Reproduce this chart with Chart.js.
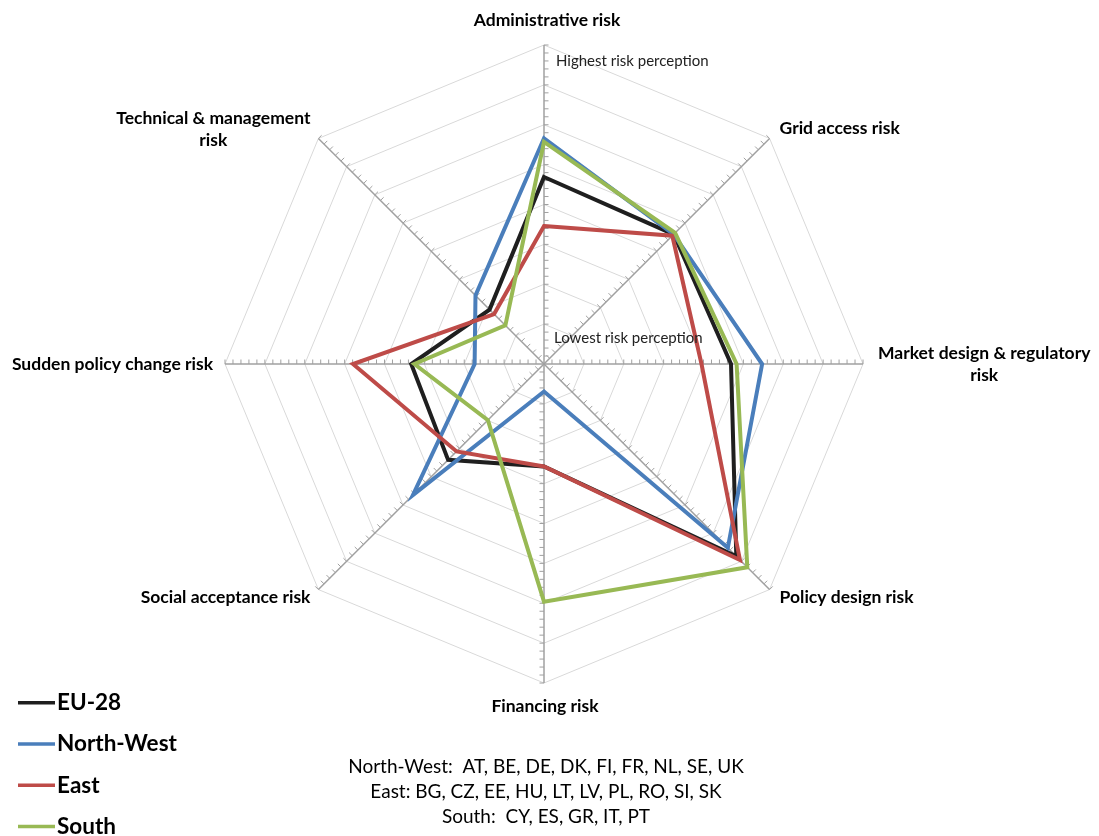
<!DOCTYPE html>
<html>
<head>
<meta charset="utf-8">
<title>Perceived risk by region</title>
<script src="https://cdn.jsdelivr.net/npm/chart.js@4.4.1/dist/chart.umd.min.js"></script>
<style>
  html, body { margin: 0; padding: 0; background: #ffffff; }
  canvas { display: block; }
</style>
</head>
<body>
<canvas id="riskRadar" width="1099" height="836"></canvas>
<script>
// Risk categories, clockwise from the top spoke
const categories = [
  ['Administrative risk'],
  ['Grid access risk'],
  ['Market design & regulatory', 'risk'],
  ['Policy design risk'],
  ['Financing risk'],
  ['Social acceptance risk'],
  ['Sudden policy change risk'],
  ['Technical & management', 'risk']
];

// Perceived risk per region (0 = lowest, 8 = highest)
const eu28      = [4.69, 4.60, 4.69, 6.82, 2.57, 3.40, 3.33, 1.93];
const northWest = [5.66, 4.60, 5.47, 6.52, 0.69, 4.65, 1.74, 2.43];
const east      = [3.46, 4.55, 3.95, 6.95, 2.57, 3.10, 4.79, 1.77];
const south     = [5.57, 4.65, 4.83, 7.21, 5.96, 1.99, 3.25, 1.37];

const seriesNames = ['EU-28', 'North-West', 'East', 'South'];
const seriesColors = ['#1f1f1f', '#4a7ebb', '#be4b48', '#98b954'];

// Value axis
const scaleMin = 0;
const scaleMax = 8;
const ringStep = 1;
const minorTicksPerRing = 5;

const axisHints = ['Highest risk perception', 'Lowest risk perception'];
const regionNotes = [
  'North-West:  AT, BE, DE, DK, FI, FR, NL, SE, UK',
  'East: BG, CZ, EE, HU, LT, LV, PL, RO, SI, SK',
  'South:  CY, ES, GR, IT, PT'
];

const FONT = 'Lato, "Open Sans", "DejaVu Sans", sans-serif';

// Where each category label sits relative to the end of its spoke
const labelPlacement = [
  { dx: 3,   dy: -25, align: 'center' },
  { dx: 10,  dy: -10, align: 'left' },
  { dx: 15,  dy: 0,   align: 'left' },
  { dx: 10,  dy: 8,   align: 'left' },
  { dx: 1,   dy: 23,  align: 'center' },
  { dx: -8,  dy: 8,   align: 'right' },
  { dx: -12, dy: 0,   align: 'right' },
  { dx: -8,  dy: -9,  align: 'right' }
];

// Small tick marks along every spoke
const spokeTicks = {
  id: 'spokeTicks',
  beforeDatasetsDraw(chart) {
    const s = chart.scales.r;
    const ctx = chart.ctx;
    const n = chart.data.labels.length;
    const count = Math.round((scaleMax - scaleMin) / ringStep) * minorTicksPerRing;
    ctx.save();
    ctx.strokeStyle = '#a0a0a0';
    ctx.lineWidth = 1;
    for (let i = 0; i < n; i++) {
      const end = s.getPointPosition(i, s.drawingArea);
      let dx = end.x - s.xCenter, dy = end.y - s.yCenter;
      const len = Math.hypot(dx, dy);
      dx /= len; dy /= len;
      let px = -dy, py = dx;
      if (py > 0.001) { px = -px; py = -py; }
      ctx.beginPath();
      for (let k = 1; k <= count; k++) {
        const v = scaleMin + k * ringStep / minorTicksPerRing;
        const p = s.getPointPosition(i, s.getDistanceFromCenterForValue(v));
        ctx.moveTo(p.x, p.y);
        ctx.lineTo(p.x + px * 4.5, p.y + py * 4.5);
      }
      ctx.stroke();
    }
    ctx.restore();
  }
};

// Category labels, axis hints, legend and region notes
const annotations = {
  id: 'annotations',
  afterDraw(chart) {
    const s = chart.scales.r;
    const ctx = chart.ctx;
    ctx.save();
    ctx.fillStyle = '#000000';
    ctx.textBaseline = 'middle';

    // category labels
    ctx.font = 'bold 17.5px ' + FONT;
    chart.data.labels.forEach((lines, i) => {
      const end = s.getPointPosition(i, s.drawingArea);
      const pl = labelPlacement[i];
      const widths = lines.map(t => ctx.measureText(t).width);
      const blockW = Math.max(...widths);
      let cx;
      if (pl.align === 'left') cx = end.x + pl.dx + blockW / 2;
      else if (pl.align === 'right') cx = end.x + pl.dx - blockW / 2;
      else cx = end.x + pl.dx;
      const lh = 22;
      const y0 = end.y + pl.dy - (lines.length - 1) * lh / 2;
      ctx.textAlign = 'center';
      lines.forEach((t, j) => ctx.fillText(t, cx, y0 + j * lh));
    });

    // hints along the top spoke
    ctx.font = '15px ' + FONT;
    ctx.fillStyle = '#222222';
    ctx.textAlign = 'left';
    const hi = s.getPointPosition(0, s.getDistanceFromCenterForValue(7.6));
    ctx.fillText(axisHints[0], hi.x + 12, hi.y);
    const lo = s.getPointPosition(0, s.getDistanceFromCenterForValue(0.65));
    ctx.fillText(axisHints[1], lo.x + 10, lo.y);

    // legend
    ctx.font = 'bold 22.5px ' + FONT;
    ctx.fillStyle = '#000000';
    chart.data.datasets.forEach((ds, i) => {
      const y = 702.7 + i * 41.3;
      ctx.strokeStyle = ds.borderColor;
      ctx.lineWidth = 3.5;
      ctx.beginPath();
      ctx.moveTo(18, y);
      ctx.lineTo(55, y);
      ctx.stroke();
      ctx.fillText(ds.label, 57, y);
    });

    // region notes
    ctx.font = '19px ' + FONT;
    ctx.textAlign = 'center';
    regionNotes.forEach((t, i) => ctx.fillText(t, 546, 767 + i * 25));
    ctx.restore();
  }
};

const seriesData = [eu28, northWest, east, south];
const drawOrder = [3, 2, 1, 0];

new Chart(document.getElementById('riskRadar'), {
  type: 'radar',
  data: {
    labels: categories,
    datasets: seriesNames.map((name, i) => ({
      label: name,
      data: seriesData[i],
      borderColor: seriesColors[i],
      backgroundColor: seriesColors[i],
      borderWidth: 4,
      fill: false,
      pointRadius: 0,
      pointHoverRadius: 0,
      tension: 0,
      order: drawOrder[i]
    }))
  },
  options: {
    responsive: false,
    animation: false,
    devicePixelRatio: 1,
    layout: { padding: { top: 45, bottom: 153, left: 0, right: 10 } },
    plugins: { legend: { display: false }, tooltip: { enabled: false } },
    scales: {
      r: {
        min: scaleMin,
        max: scaleMax,
        ticks: { display: false, stepSize: ringStep },
        grid: { color: '#d9d9d9', lineWidth: 1 },
        angleLines: { color: '#a0a0a0', lineWidth: 1.5 },
        pointLabels: { display: false }
      }
    }
  },
  plugins: [spokeTicks, annotations]
});
</script>
</body>
</html>
